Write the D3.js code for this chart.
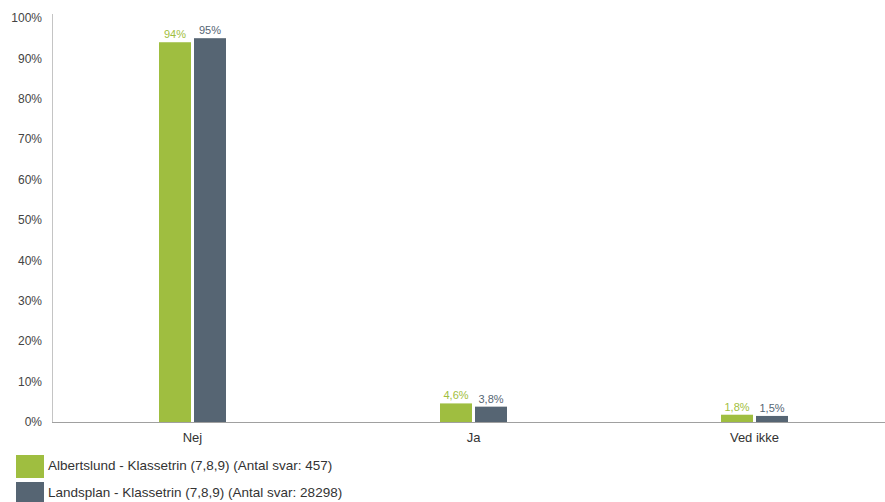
<!DOCTYPE html>
<html><head><meta charset="utf-8">
<script src="https://cdn.jsdelivr.net/npm/d3@7"></script>
<style>body{margin:0;background:#fff}svg{display:block;font-family:"Liberation Sans",Arial,sans-serif}</style>
</head><body><svg id="c" width="885" height="502"></svg>
<script>
const categories = ["Nej", "Ja", "Ved ikke"];
const seriesNames = ["Albertslund - Klassetrin (7,8,9) (Antal svar: 457)", "Landsplan - Klassetrin (7,8,9) (Antal svar: 28298)"];
const albertslund = [94, 4.6, 1.8];
const landsplan = [95, 3.8, 1.5];
const albertslundLabels = ["94%", "4,6%", "1,8%"];
const landsplanLabels = ["95%", "3,8%", "1,5%"];
const yTicks = [0, 10, 20, 30, 40, 50, 60, 70, 80, 90, 100];

(function () {
const colors = ["#9fbe40", "#566573"];
const labelColors = ["#9fbe40", "#566573"];
const svg = d3.select("#c");
const mLeft = 52, mRight = 895, mTop = 18, mBottom = 422;
const x = d3.scaleBand().domain(categories).range([mLeft, mRight]);
const y = d3.scaleLinear().domain([0, 100]).range([mBottom, mTop]);
const barW = 32, gap = 3;

svg.append("line").attr("x1", mLeft + 0.5).attr("x2", mLeft + 0.5).attr("y1", 14).attr("y2", mBottom)
  .attr("stroke", "#c4c4c4");
svg.append("g").selectAll("text").data(yTicks).join("text")
  .attr("x", 42).attr("y", d => y(d)).attr("dy", "0.35em").attr("text-anchor", "end")
  .attr("font-size", 12).attr("fill", "#444").text(d => d + "%");

const series = [albertslund, landsplan];
const labels = [albertslundLabels, landsplanLabels];
series.forEach((vals, si) => {
  const g = svg.append("g");
  g.selectAll("rect").data(vals).join("rect")
    .attr("x", (d, i) => x(categories[i]) + x.bandwidth() / 2 + (si === 0 ? -barW - gap / 2 : gap / 2))
    .attr("y", d => y(d)).attr("width", barW).attr("height", d => mBottom - y(d))
    .attr("fill", colors[si]);
  g.selectAll("text").data(vals).join("text")
    .attr("x", (d, i) => x(categories[i]) + x.bandwidth() / 2 + (si === 0 ? -barW / 2 - gap / 2 : barW / 2 + gap / 2))
    .attr("y", d => y(d) - 4).attr("text-anchor", "middle").attr("font-size", 11)
    .attr("fill", labelColors[si]).text((d, i) => labels[si][i]);
});

svg.append("line").attr("x1", mLeft).attr("x2", 885).attr("y1", mBottom + 0.5).attr("y2", mBottom + 0.5)
  .attr("stroke", "#a0a0a0");

svg.append("g").selectAll("text").data(categories).join("text")
  .attr("x", d => x(d) + x.bandwidth() / 2).attr("y", 442).attr("text-anchor", "middle")
  .attr("font-size", 13).attr("fill", "#333").text(d => d);

const lg = svg.append("g");
seriesNames.forEach((n, i) => {
  lg.append("rect").attr("x", 16).attr("y", 455 + i * 27).attr("width", 28).attr("height", 23).attr("fill", colors[i]);
  lg.append("text").attr("x", 48).attr("y", 465 + i * 27).attr("dy", "0.35em").attr("font-size", 13.5)
    .attr("fill", "#333").text(n);
});
})();
</script></body></html>
